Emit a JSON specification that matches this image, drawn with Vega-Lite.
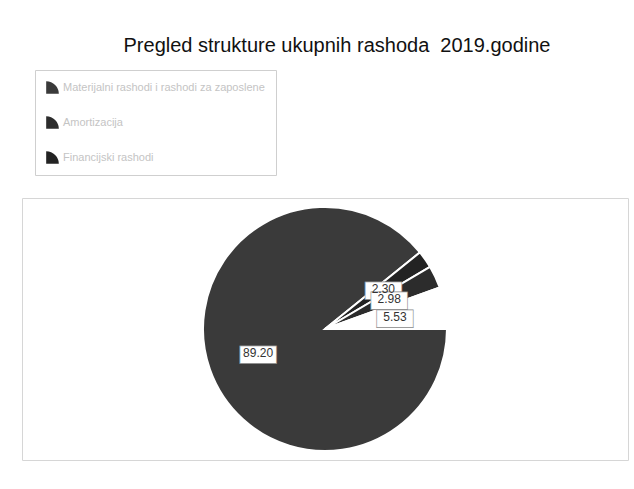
{
  "$schema": "https://vega.github.io/schema/vega-lite/v6.json",
  "width": 606,
  "height": 262,
  "autosize": {"type": "none"},
  "padding": {"left": 22, "top": 198, "right": 6, "bottom": 29},
  "background": "white",
  "title": {
    "text": "Pregled strukture ukupnih rashoda\u00a0 2019.godine",
    "fontSize": 20,
    "fontWeight": "normal",
    "font": "Liberation Sans",
    "color": "#111111",
    "offset": 14,
    "dx": 12
  },
  "view": {"stroke": "#d6d6d6"},
  "config": {"view": {"stroke": "#d6d6d6"}, "font": "Liberation Sans"},
  "data": {
    "values": [
      {"kategorija": "Materijalni rashodi i rashodi za zaposlene", "udio": 89.20, "red": 1, "oznaka": "89.20"},
      {"kategorija": "Financijski rashodi", "udio": 2.30, "red": 2, "oznaka": "2.30"},
      {"kategorija": "Amortizacija", "udio": 2.98, "red": 3, "oznaka": "2.98"},
      {"kategorija": "Ostali rashodi", "udio": 5.53, "red": 4, "oznaka": "5.53"}
    ]
  },
  "encoding": {
    "theta": {"field": "udio", "type": "quantitative", "stack": true, "scale": {"range": [1.5708, 7.854]}},
    "order": {"field": "red", "type": "quantitative"}
  },
  "layer": [
    {
      "mark": {"type": "arc", "radius": 122, "stroke": "white", "strokeWidth": 2},
      "encoding": {
        "color": {
          "field": "kategorija",
          "type": "nominal",
          "scale": {
            "domain": ["Materijalni rashodi i rashodi za zaposlene", "Amortizacija", "Financijski rashodi", "Ostali rashodi"],
            "range": ["#3a3a3a", "#2c2c2c", "#232323", "#ffffff"]
          },
          "legend": {
            "orient": "none",
            "legendX": 13,
            "legendY": -128,
            "title": null,
            "values": ["Materijalni rashodi i rashodi za zaposlene", "Amortizacija", "Financijski rashodi"],
            "symbolType": "M-1,1L-1,-1A2,2 0 0 1 1,1Z",
            "symbolSize": 160,
            "symbolStrokeWidth": 0,
            "labelColor": "#c4c4c4",
            "labelFontSize": 11,
            "labelLimit": 300,
            "rowPadding": 22,
            "strokeColor": "#cfcfcf",
            "padding": 11
          }
        }
      }
    },
    {
      "mark": {"type": "text", "radius": 71, "text": "▬", "font": "DejaVu Sans", "fontSize": 48, "fill": "white", "stroke": "#8a8a8a", "strokeWidth": 0.6, "baseline": "middle", "align": "center"}
    },
    {
      "mark": {"type": "text", "radius": 71, "fontSize": 12, "color": "#333333", "baseline": "middle"},
      "encoding": {"text": {"field": "oznaka", "type": "nominal"}}
    }
  ]
}
